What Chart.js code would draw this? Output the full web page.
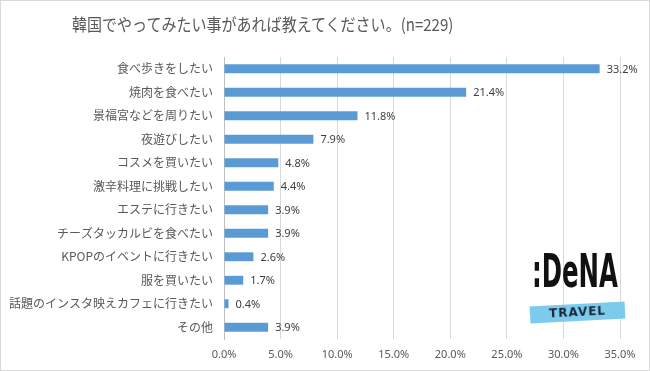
<!DOCTYPE html>
<html><head><meta charset="utf-8">
<script src="https://cdn.jsdelivr.net/npm/chart.js@4"></script>
<style>
html,body{margin:0;padding:0;background:#fff;}
#wrap{position:relative;width:648px;height:369px;border:1px solid #d9d9d9;overflow:hidden;}
#c{position:absolute;left:-1px;top:-1px;}
#title{position:absolute;left:71px;top:11px;font:17px "Noto Sans CJK JP","Noto Sans",sans-serif;color:#595959;white-space:nowrap;line-height:24px;transform-origin:0 0;}
#logo{position:absolute;left:528px;top:250px;width:100px;height:75px;}
#dena{position:absolute;left:3px;top:-5px;font:bold 46px "DejaVu Sans",sans-serif;color:#111;transform-origin:0 0;white-space:nowrap;line-height:50px;}
#travel{position:absolute;left:1px;top:53px;width:95px;height:17px;background:#7ccbec;transform:rotate(-3deg);text-align:center;font:bold 12px "DejaVu Sans",sans-serif;color:#1b2838;letter-spacing:1px;line-height:17px;}
</style></head>
<body>
<div id="wrap">
<canvas id="c" width="650" height="371"></canvas>
<div id="title">韓国でやってみたい事があれば教えてください。(n=229)</div>
<div id="logo"><div id="dena">:DeNA</div><div id="travel">TRAVEL</div></div>
</div>
<script>
const categories = ["食べ歩きをしたい","焼肉を食べたい","景福宮などを周りたい","夜遊びしたい","コスメを買いたい","激辛料理に挑戦したい","エステに行きたい","チーズタッカルビを食べたい","KPOPのイベントに行きたい","服を買いたい","話題のインスタ映えカフェに行きたい","その他"];
const values = [33.2,21.4,11.8,7.9,4.8,4.4,3.9,3.9,2.6,1.7,0.4,3.9];
const xTicks = [0,5,10,15,20,25,30,35];

// fit title and logo widths
(function(){
  const t = document.getElementById('title');
  t.style.transform = 'scaleX(' + (381 / t.offsetWidth) + ')';
  const d = document.getElementById('dena');
  d.style.transform = 'scaleX(' + (86 / d.offsetWidth) + ')';
})();

const labelPlugin = {
  id:'barLabels',
  afterDatasetsDraw(chart){
    const ctx = chart.ctx;
    const meta = chart.getDatasetMeta(0);
    ctx.save();
    ctx.font = '11px "Noto Sans","Noto Sans CJK JP",sans-serif';
    ctx.fillStyle = '#404040';
    ctx.textBaseline = 'middle';
    ctx.textAlign = 'left';
    meta.data.forEach((bar,i)=>{
      ctx.fillText(values[i].toFixed(1)+'%', bar.x+7, bar.y+1);
    });
    ctx.restore();
  }
};

new Chart(document.getElementById('c'),{
  type:'bar',
  data:{labels:categories,datasets:[{data:values,backgroundColor:'#5b9bd5',barPercentage:0.9,categoryPercentage:0.42}]},
  options:{
    indexAxis:'y',
    responsive:false,
    animation:false,
    layout:{padding:{left:0,right:30,top:57,bottom:0}},
    plugins:{legend:{display:false},tooltip:{enabled:false},title:{display:false}},
    scales:{
      x:{
        min:0,max:35,
        afterBuildTicks(ax){ax.ticks = xTicks.map(v=>({value:v}));},
        afterFit(ax){ax.height = 32;},
        grid:{color:'#d9d9d9',drawTicks:false},
        border:{display:false},
        ticks:{padding:9,color:'#595959',font:{size:11,family:'"Noto Sans","Noto Sans CJK JP",sans-serif'},callback:v=>v.toFixed(1)+'%'}
      },
      y:{
        afterFit(ax){ax.width = 224;},
        grid:{display:false,drawTicks:false},
        border:{display:true,color:'#bfbfbf'},
        ticks:{padding:11,color:'#595959',font:{size:12,family:'"Noto Sans CJK JP","Noto Sans",sans-serif'}}
      }
    }
  },
  plugins:[labelPlugin]
});
</script>
</body></html>
